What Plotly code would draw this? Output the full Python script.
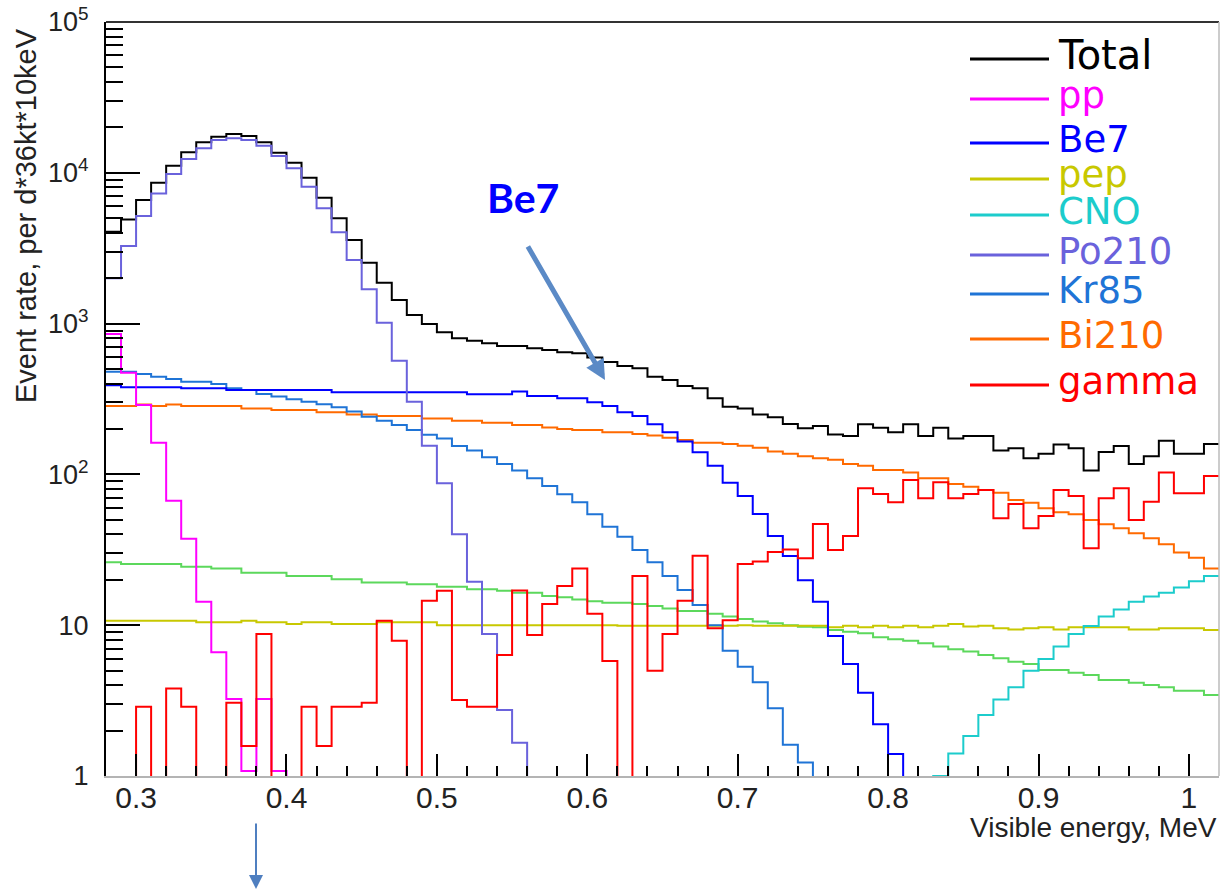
import numpy as np
import plotly.graph_objects as go

# ---------------- data ----------------
bin_low_mev = 0.28
bin_width_mev = 0.01
n_bins = 74

total = [4070, 4900, 6600, 8600, 11150, 13680, 15920, 17370, 18080, 17540,
         15920, 13590, 11670, 9280, 6840, 4990, 3585, 2535, 1868, 1435,
         1141, 994, 875, 799, 770, 740, 710, 710, 686, 668,
         645, 635, 597, 556, 523, 505, 445, 423, 386, 372,
         320, 281, 274, 250, 239, 216, 202, 209, 184, 180,
         215, 204, 190, 215, 180, 204, 173, 180, 180, 144,
         149, 128, 137, 158, 149, 106, 141, 154, 117, 132,
         167, 137, 137, 159]

pp = [853, 473, 288, 162, 67, 37.5, 14.3, 6.61, 3.24, 1.08,
      3.24, 1.08] + [0] * 62

be7 = ([390, 378, 378, 378, 378, 372, 372, 372]
       + [363] * 7 + [350] * 9
       + [340, 340, 340, 354, 331, 331, 320, 320, 301, 284,
          258, 244, 215, 190, 165, 140, 114, 88.1, 71.9, 54.6,
          39.0, 28.8, 19.9, 14.3, 8.48, 5.53, 3.57, 2.20, 1.40]
       + [0] * 21)

pep = ([10.7] * 6 + [10.45] * 3 + [10.7] + [10.45] * 2 + [10.2] + [10.45] * 2
       + [10.2] * 3 + [10.45] * 4 + [10.0] * 12 + [9.9] * 8 + [10.0] + [9.9] * 5
       + [9.68, 9.9, 9.68, 9.9, 9.68, 9.9, 9.68, 9.9, 10.2, 9.8,
          9.9, 9.53, 9.38, 9.53, 9.68, 9.38, 9.68, 9.68, 9.68, 9.68,
          9.38, 9.38, 9.53, 9.53, 9.53, 9.29])

cno = [0] * 55 + [1.0, 1.41, 1.84, 2.54, 3.22, 3.87, 4.99, 5.97, 7.21, 8.74,
                  9.88, 11.4, 12.7, 14.3, 15.5, 16.4, 17.8, 19.6, 21.2]

po210 = [1997, 3272, 5170, 7300, 9820, 12350, 14530, 16500, 16930, 16500,
         15130, 12920, 10710, 8090, 5815, 4030, 2640, 1688, 1014, 568,
         303, 155, 87.3, 40.1, 19.4, 8.74, 2.74, 1.66] + [0] * 46

kr85 = [480, 480, 463, 445, 429, 412, 412, 398, 372, 363,
        341, 328, 315, 303, 292, 279, 261, 241, 227, 213,
        197, 183, 173, 154, 144, 130, 117, 106, 94.2, 83.8,
        73.8, 65.3, 54.4, 45.0, 38.6, 31.5, 26.1, 21.2, 17.1, 13.6,
        10.0, 6.78, 5.31, 4.18, 2.81, 1.61, 1.23] + [0] * 27

bi210 = [284, 284, 291, 284, 291, 284, 284, 284, 284, 274,
         274, 267, 267, 267, 258, 258, 250, 250, 244, 244,
         244, 235, 235, 227, 227, 220, 220, 213, 213, 205,
         200, 197, 197, 190, 190, 185, 181, 175, 169, 162,
         162, 159, 155, 150, 142, 137, 132, 128, 125, 117,
         114, 107, 107, 103, 94.2, 94.2, 86.4, 82.9, 78.8, 75.6,
         67.6, 64.9, 59.6, 56.0, 54.4, 49.9, 46.7, 43.9, 40.7, 37.7,
         34.4, 30.4, 28.0, 23.8]

gamma = [0, 0, 2.88, 0, 3.81, 2.88, 0, 0, 3.06, 1.58,
         8.74, 0, 0, 2.88, 1.58, 2.88, 2.88, 3.06, 10.7, 7.89,
         0, 14.5, 16.9, 3.19, 2.88, 2.88, 6.35, 17.0, 8.61, 13.8,
         18.2, 23.8, 11.9, 5.79, 0, 21.2, 4.99, 8.74, 14.5, 28.9,
         9.53, 10.8, 25.5, 26.4, 30.6, 31.8, 27.8, 46.9, 31.5, 39.0,
         80.9, 74.1, 65.3, 91.8, 69.4, 88.6, 69.4, 74.1, 78.8, 51.2,
         63.6, 43.9, 53.0, 78.8, 71.9, 32.4, 69.4, 80.9, 49.9, 65.9,
         103, 74.9, 74.9, 97.6]

other_green = ([26.1] + [25.5] * 4 + [24.4] * 2 + [23.8] * 2 + [22.3] * 3
               + [21.2] * 3 + [20.2] * 2 + [19.2] * 3 + [18.7] * 2 + [18.0] * 2
               + [17.3] * 2 + [16.9] + [16.4] * 2 + [15.6, 15.3, 14.8, 14.4, 14.1, 14.1,
                                                    13.8, 13.4, 12.9, 12.4, 12.4, 11.9,
                                                    11.4, 11.0, 10.6, 10.3, 10.0, 9.78,
                                                    9.68, 9.29, 9.04, 8.84, 8.31, 8.06,
                                                    7.89, 7.58, 7.21, 6.92, 6.68, 6.35,
                                                    6.03, 5.73, 5.53, 5.05, 5.05, 4.84,
                                                    4.67, 4.33, 4.33, 4.16, 4.01, 3.87,
                                                    3.68, 3.68, 3.44])

x_tick_vals = [0.3, 0.4, 0.5, 0.6, 0.7, 0.8, 0.9, 1.0]
x_tick_text = ["0.3", "0.4", "0.5", "0.6", "0.7", "0.8", "0.9", "1"]
y_tick_vals = [1, 10, 100, 1000, 10000, 100000]
y_tick_text = ["1", "10", "10<sup>2</sup>", "10<sup>3</sup>", "10<sup>4</sup>", "10<sup>5</sup>"]

legend_names = ["Total", "pp", "Be7", "pep", "CNO", "Po210", "Kr85", "Bi210", "gamma"]
colors = {"Total": "#000000", "pp": "#ff00ff", "Be7": "#0000ff", "pep": "#c8c800",
          "CNO": "#1ccccc", "Po210": "#6a62dc", "Kr85": "#1f74d6", "Bi210": "#ff6a00",
          "gamma": "#ff0000", "other": "#5cd85c"}
values = {"Total": total, "pp": pp, "Be7": be7, "pep": pep, "CNO": cno, "Po210": po210,
          "Kr85": kr85, "Bi210": bi210, "gamma": gamma, "other": other_green}

# ---------------- figure ----------------
W, H = 1220, 893
L, R, T, B = 106, 1, 22, 117
PW, PH = W - L - R, H - T - B


def pxx(xp):
    return (xp - L) / PW


def pyy(yp):
    return (H - B - yp) / PH


edges = np.round(bin_low_mev + bin_width_mev * np.arange(n_bins + 1), 4)


def step_y(vals):
    v = np.array(vals, dtype=float)
    v = np.where(v > 0, v, 1e-3)  # empty bins drop below the frame
    return np.append(v, v[-1])


fig = go.Figure()
draw_order = ["Total", "other", "pep", "CNO", "Bi210", "Kr85", "Be7", "Po210", "pp", "gamma"]
for name in draw_order:
    fig.add_trace(go.Scatter(
        x=edges, y=step_y(values[name]), mode="lines",
        line=dict(color=colors[name], width=2, shape="hv"),
        name=name, showlegend=False, hoverinfo="skip"))

font_main = "Liberation Sans, Arial, sans-serif"

fig.update_layout(
    width=W, height=H,
    margin=dict(l=L, r=R, t=T, b=B),
    paper_bgcolor="white", plot_bgcolor="white",
    showlegend=False,
    xaxis=dict(
        range=[0.28, 1.02], tickmode="array", tickvals=x_tick_vals, ticktext=x_tick_text,
        ticks="inside", ticklen=22, tickwidth=2, tickcolor="black",
        showline=True, linecolor="#b4b4b4", linewidth=2, mirror=False,
        showgrid=False, zeroline=False, automargin=False,
        tickfont=dict(family=font_main, size=30, color="#222222"),
        ticklabelstandoff=-6,
        minor=dict(ticks="inside", ticklen=10, tickwidth=2, tickcolor="black",
                   tick0=0.3, dtick=0.02, showgrid=False),
    ),
    yaxis=dict(
        type="log", range=[0, 5], tickmode="array", tickvals=y_tick_vals, ticktext=y_tick_text,
        ticks="inside", ticklen=34, tickwidth=2, tickcolor="black",
        showline=True, linecolor="black", linewidth=2, mirror=False,
        showgrid=False, zeroline=False, automargin=False,
        tickfont=dict(family=font_main, size=27, color="#222222"),
        ticklabelstandoff=10,
        minor=dict(ticks="inside", ticklen=17, tickwidth=2, tickcolor="black",
                   dtick="D1", showgrid=False),
    ),
)

shapes = [
    dict(type="line", xref="paper", yref="paper", x0=0, x1=1, y0=1, y1=1,
         line=dict(color="#333333", width=2)),
    dict(type="line", xref="paper", yref="paper", x0=1, x1=1, y0=0, y1=1,
         line=dict(color="#bbbbbb", width=1.5)),
]

annotations = [
    dict(text="Event rate, per d*36kt*10keV", textangle=-90, xref="paper", yref="paper",
         x=pxx(26), y=pyy(216), xanchor="center", yanchor="middle", showarrow=False,
         font=dict(family=font_main, size=29, color="#222222")),
    dict(text="Visible energy, MeV", xref="paper", yref="paper",
         x=pxx(1219), y=pyy(828), xanchor="right", yanchor="middle", showarrow=False,
         font=dict(family=font_main, size=28, color="#222222")),
    dict(text="<b>Be7</b>", xref="paper", yref="paper", x=pxx(523), y=pyy(197),
         xanchor="center", yanchor="middle", showarrow=False,
         font=dict(family="Lato, Open Sans, sans-serif", size=41, color="#0000ff")),
    dict(text="", xref="paper", yref="paper", x=pxx(605), y=pyy(380),
         ax=-78, ay=-135, showarrow=True, arrowhead=2, arrowsize=0.8,
         arrowwidth=5, arrowcolor="#5b8ac6"),
    dict(text="", xref="paper", yref="paper", x=pxx(256), y=pyy(889),
         ax=0, ay=-67, showarrow=True, arrowhead=2, arrowsize=1.4,
         arrowwidth=2, arrowcolor="#4f7fc0"),
]

legend_y = [59, 99, 143, 179, 215, 255, 294, 339, 385]
for name, yl in zip(legend_names, legend_y):
    shapes.append(dict(type="line", xref="paper", yref="paper",
                       x0=pxx(970), x1=pxx(1049), y0=pyy(yl), y1=pyy(yl),
                       line=dict(color=colors[name], width=3)))
    annotations.append(dict(text=name, xref="paper", yref="paper",
                            x=pxx(1056), y=pyy(yl - 4), xanchor="left", yanchor="middle",
                            showarrow=False,
                            font=dict(family="DejaVu Sans, sans-serif",
                                      size=40 if name == "Total" else 37,
                                      color=colors[name])))

fig.update_layout(shapes=shapes, annotations=annotations)
fig.write_html("out.html",
               config={"displayModeBar": False},
               post_script="document.body.style.margin='0px';document.body.style.padding='0px';"
                           "document.documentElement.style.overflow='hidden';")
